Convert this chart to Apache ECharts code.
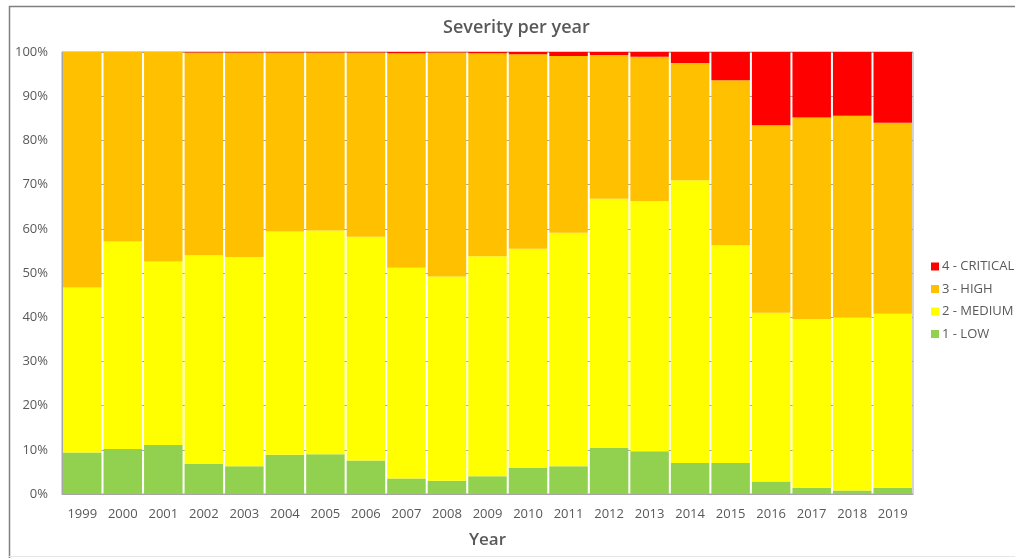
<!DOCTYPE html>
<html>
<head>
<meta charset="utf-8">
<title>Severity per year</title>
<script src="https://cdn.jsdelivr.net/npm/echarts@6/dist/echarts.min.js"></script>
<style>
  html, body { margin: 0; padding: 0; background: #fff; }
  #chart { width: 1015px; height: 558px; }
</style>
</head>
<body>
<div id="chart"></div>
<script>
// Share of findings per severity level, in percent of each year's total
const years = ['1999','2000','2001','2002','2003','2004','2005','2006','2007','2008','2009',
               '2010','2011','2012','2013','2014','2015','2016','2017','2018','2019'];

const low      = [9.4, 10.2, 11.1, 6.8, 6.3, 8.9, 9.0, 7.6, 3.5, 3.0, 4.0,
                  5.9, 6.3, 10.4, 9.7, 7.0, 7.0, 2.8, 1.4, 0.8, 1.4];
const medium   = [37.3, 46.9, 41.5, 47.2, 47.3, 50.5, 50.6, 50.6, 47.7, 46.2, 49.8,
                  49.6, 52.8, 56.4, 56.6, 64.0, 49.3, 38.2, 38.2, 39.2, 39.4];
const high     = [53.3, 42.9, 47.4, 45.9, 46.3, 40.5, 40.3, 41.7, 48.5, 50.7, 45.9,
                  44.0, 40.0, 32.5, 32.6, 26.5, 37.3, 42.4, 45.6, 45.6, 43.2];
const critical = [0, 0, 0, 0.1, 0.1, 0.1, 0.1, 0.1, 0.3, 0.1, 0.3,
                  0.5, 0.9, 0.7, 1.1, 2.5, 6.4, 16.6, 14.8, 14.4, 16.0];

const yTicks = [0, 10, 20, 30, 40, 50, 60, 70, 80, 90, 100];

const levels = [
  { name: '1 - LOW',      data: low,      color: '#92D050' },
  { name: '2 - MEDIUM',   data: medium,   color: '#FFFF00' },
  { name: '3 - HIGH',     data: high,     color: '#FFC000' },
  { name: '4 - CRITICAL', data: critical, color: '#FF0000' }
];

const FONT = '"Open Sans", "Noto Sans", sans-serif';
const TEXT = '#595959';

const chart = echarts.init(document.getElementById('chart'), null, { renderer: 'canvas' });

chart.setOption({
  animation: false,
  backgroundColor: '#ffffff',
  title: {
    text: 'Severity per year',
    left: 438,
    top: 14,
    textStyle: { fontFamily: FONT, fontSize: 18, fontWeight: 600, color: TEXT }
  },
  legend: {
    orient: 'vertical',
    left: 926,
    top: 255,
    itemWidth: 8,
    itemHeight: 8,
    itemGap: 9.5,
    icon: 'rect',
    data: ['4 - CRITICAL', '3 - HIGH', '2 - MEDIUM', '1 - LOW'],
    textStyle: { fontFamily: FONT, fontSize: 13, color: TEXT, padding: [0, 0, 0, -2] }
  },
  grid: {
    left: 62, right: 102, top: 52, bottom: 64,
    show: true, borderColor: '#a6a6a6', borderWidth: 1
  },
  xAxis: {
    type: 'category',
    data: years,
    name: 'Year',
    nameLocation: 'middle',
    nameGap: 38,
    nameTextStyle: { fontFamily: FONT, fontSize: 17, fontWeight: 600, color: TEXT },
    axisLine: { lineStyle: { color: '#a6a6a6' } },
    axisTick: { show: false },
    axisLabel: { fontFamily: FONT, fontSize: 13, color: TEXT, margin: 14 }
  },
  yAxis: {
    type: 'value',
    min: yTicks[0],
    max: yTicks[yTicks.length - 1],
    interval: yTicks[1] - yTicks[0],
    axisLine: { show: true, lineStyle: { color: '#a6a6a6' } },
    axisTick: { show: false },
    splitLine: { lineStyle: { color: '#a6a6a6' } },
    axisLabel: { fontFamily: FONT, fontSize: 13, color: TEXT, margin: 14, formatter: '{value}%' }
  },
  graphic: [
    { type: 'line', shape: { x1: 9, y1: 6.5, x2: 1015, y2: 6.5 }, style: { stroke: '#7f7f7f', lineWidth: 1.5 } },
    { type: 'line', shape: { x1: 9.5, y1: 6, x2: 9.5, y2: 558 }, style: { stroke: '#7f7f7f', lineWidth: 1.5 } },
    { type: 'line', shape: { x1: 9, y1: 556.5, x2: 1015, y2: 556.5 }, style: { stroke: '#e6e6e6', lineWidth: 1 } }
  ],
  series: levels.map(l => ({
    name: l.name,
    type: 'bar',
    stack: 'severity',
    data: l.data,
    barCategoryGap: '5%',
    itemStyle: { color: l.color },
    emphasis: { disabled: true }
  }))
});
</script>
</body>
</html>
